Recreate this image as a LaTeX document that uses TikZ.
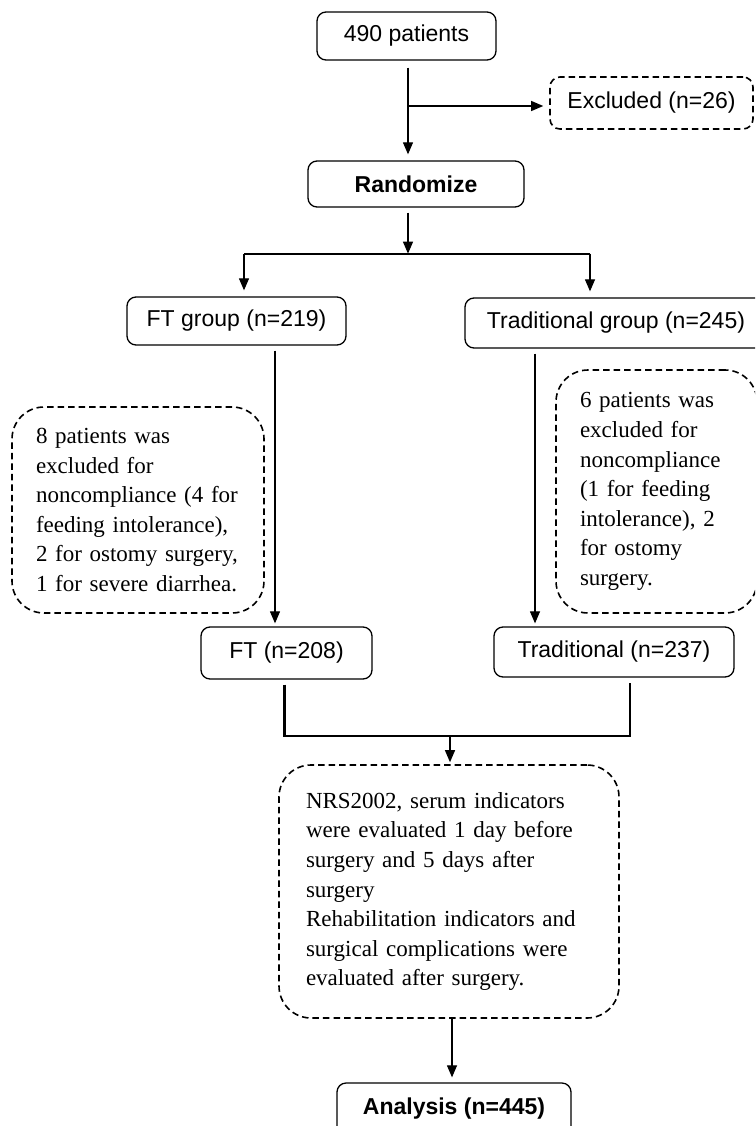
\documentclass[tikz,border=0pt]{standalone}
\usepackage{fontspec}
\setmainfont{Liberation Sans}
\newfontfamily\seriffont{Liberation Serif}
\usetikzlibrary{arrows.meta,calc}
\begin{document}
\begin{tikzpicture}[x=1pt,y=-1pt,
  solidbox/.style={draw, line width=1.3pt, rounded corners=9pt, font=\fontsize{23}{28}\selectfont, inner sep=0pt},
  dashline/.style={line width=1.6pt, dash pattern=on 6.5pt off 4pt},
  dashbox/.style={draw, dashline, rounded corners=32pt, font=\seriffont\fontsize{23}{29.6}\selectfont, align=left, inner xsep=24pt, inner ysep=0pt},
  arr/.style={line width=1.2pt, -{Triangle[length=12pt,width=10pt]}},
  joinline/.style={line width=2.2pt}
]
\useasboundingbox (0,0) rectangle (755,1126);
\clip (0,0) rectangle (755,1126);

% boxes
\node[solidbox, minimum width=179pt, minimum height=48pt] (p490) at (406.5,36) {490 patients};
\node[solidbox, dashline, rounded corners=10pt, minimum width=203pt, minimum height=52pt] (excl) at (651.5,103) {Excluded (n=26)};
\node[solidbox, font=\fontsize{23}{28}\selectfont\bfseries, minimum width=216pt, minimum height=46pt] (rand) at (416,184) {Randomize};
\node[solidbox, minimum width=219pt, minimum height=48pt] (ftg) at (236.5,321) {FT group (n=219)};
\node[solidbox, minimum width=302pt, minimum height=50pt] (trg) at (616,323) {Traditional group (n=245)};
\node[dashbox, text width=204pt, minimum height=206pt] (lex) at (138,510) {8 patients was\\excluded for\\noncompliance (4 for\\feeding intolerance),\\2 for ostomy surgery,\\1 for severe diarrhea.};
\node[dashbox, text width=153pt, minimum height=243pt] (rex) at (656.5,491.5) {6 patients was\\excluded for\\noncompliance\\(1 for feeding\\intolerance), 2\\for ostomy\\surgery.};
\node[solidbox, minimum width=171pt, minimum height=52pt] (ft) at (286.5,653) {FT (n=208)};
\node[solidbox, minimum width=240pt, minimum height=50pt] (tr) at (614,652) {Traditional (n=237)};
\node[dashbox, inner xsep=27pt, text width=286pt, minimum height=253pt] (big) at (449,891.5) {NRS2002, serum indicators\\were evaluated 1 day before\\surgery and 5 days after\\surgery\\Rehabilitation indicators and\\surgical complications were\\evaluated after surgery.};
\node[solidbox, font=\fontsize{23}{28}\selectfont\bfseries, minimum width=234pt, minimum height=52pt] (an) at (454,1109) {Analysis (n=445)};

% connectors
\draw[arr] ($(p490.south)+(1.5,7)$) -- ($(p490.south |- rand.north)+(1.5,-6)$);
\draw[arr] ($(p490.south |- excl.west)+(1.5,3)$) -- ($(excl.west)+(-6,3)$);

\coordinate (split) at ($(rand.south)+(-8,46)$);
\draw[arr] ($(rand.south)+(-8,5)$) -- (split);
\coordinate (sl) at ($(split)+(-164,0)$);
\coordinate (sr) at ($(split)+(182,0)$);
\draw[joinline] (sl) -- (sr);
\draw[arr] (sl) -- ($(sl |- ftg.north)+(0,-6)$);
\draw[arr] (sr) -- ($(sr |- trg.north)+(0,-6)$);

\coordinate (fl) at ($(ftg.south)+(38.5,5)$);
\draw[arr] (fl) -- ($(fl |- ft.north)+(0,-3)$);
\coordinate (tl) at ($(trg.south)+(-81,5)$);
\draw[arr] (tl) -- ($(tl |- tr.north)+(0,-3)$);

\coordinate (ml) at ($(ft.south)+(-2,5)$);
\coordinate (mr) at ($(tr.south)+(16,5)$);
\coordinate (mj) at ($(big.north)+(1,-28)$);
\draw[joinline] (ml) -- (ml |- mj) -- (mr |- mj) -- (mr);
\draw[arr] (mj) -- ($(big.north)+(1,-2)$);

\draw[arr] ($(big.south)+(3,0)$) -- ($(an.north)+(-2,-5)$);
\end{tikzpicture}
\end{document}
